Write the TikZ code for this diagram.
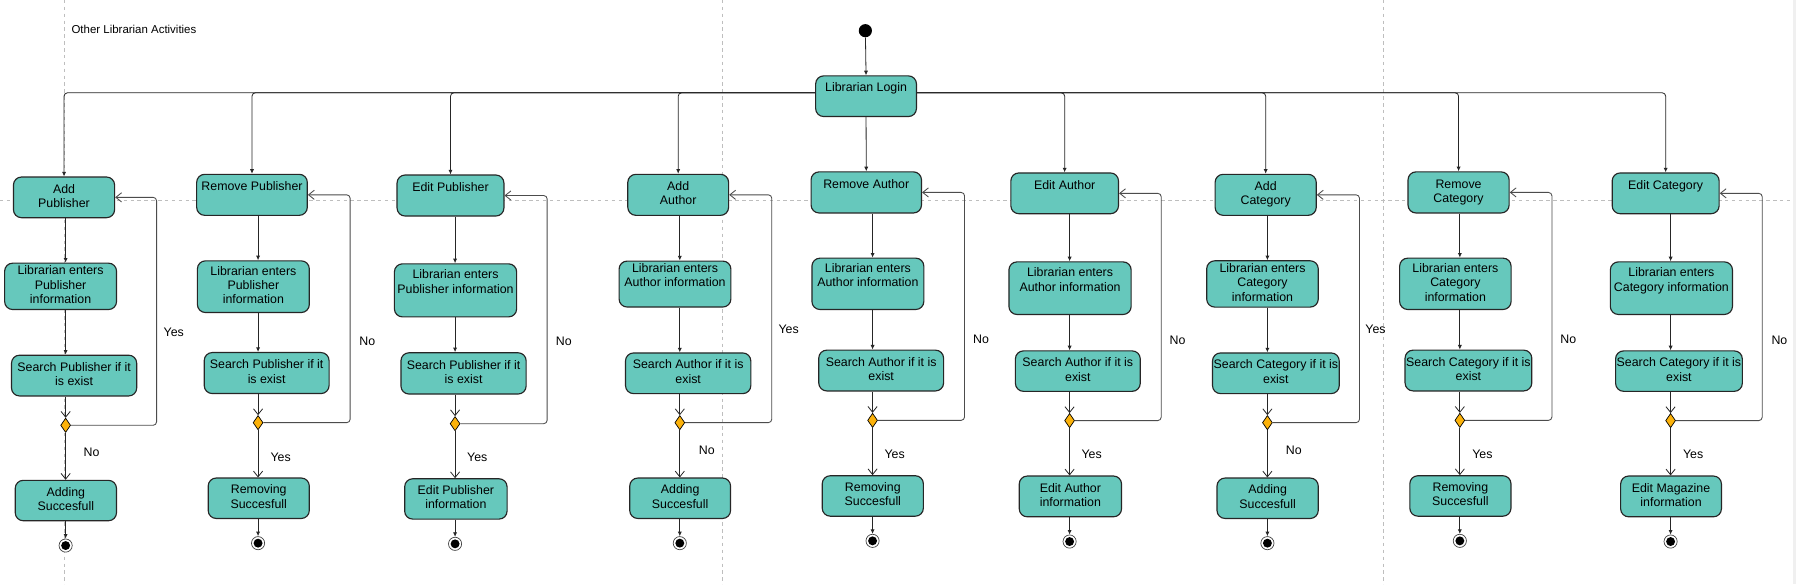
\documentclass[tikz,border=0pt]{standalone}
\usepackage{fontspec}
\setmainfont{Liberation Sans}
\usetikzlibrary{arrows.meta,shapes.geometric}
\definecolor{boxc}{RGB}{102,200,188}
\definecolor{amber}{RGB}{252,178,10}
\definecolor{dashc}{RGB}{190,190,190}
\newcommand{\bxn}[6]{\node[bx,minimum width=#4pt,minimum height=#5pt] (#1) at (#2,#3) {#6};}
\newcommand{\st}{\strut}
\begin{document}
\begin{tikzpicture}[x=1pt,y=-1pt,
  bx/.style={draw=black!85, line width=1pt, fill=boxc, rounded corners=7pt, inner sep=1pt, align=center, font=\fontsize{10.8}{12.5}\selectfont},
  lab/.style={font=\fontsize{10.8}{12.5}\selectfont, inner sep=0pt},
  fl/.style={draw=black!85, line width=0.7pt, -{Latex[length=4pt,width=3.6pt]}},
  op/.style={draw=black!85, line width=0.7pt, -{Straight Barb[length=5pt,width=8pt]}},
  lp/.style={draw=black!70, line width=0.75pt, -{Straight Barb[length=5pt,width=8pt]}},
  dm/.style={diamond, draw=black, fill=amber, minimum width=8.7pt, minimum height=12.5pt, inner sep=0pt, line width=0.6pt},
  fin/.style={circle, draw=black!75, line width=0.6pt, fill=white, minimum size=11.5pt, inner sep=0pt, path picture={\fill[black] (path picture bounding box.center) circle (3.9pt);}},
  ini/.style={circle, fill=black, minimum size=11.5pt, inner sep=0pt},
  dsh/.style={draw=dashc, line width=0.6pt, dash pattern=on 3pt off 3pt}]
\useasboundingbox (0,0) rectangle (1568,510);
\fill[white] (0,0) rectangle (1568,510);
\fill[black!6] (1565,0) rectangle (1568,510);
% swimlane guides
\draw[dsh] (56,0) -- (56,510);
\draw[dsh] (631,0) -- (631,510);
\draw[dsh] (1208,0) -- (1208,510);
\draw[dsh] (0,175.2) -- (1565,175.2);

\node[anchor=west, font=\fontsize{10}{12}\selectfont, inner sep=0pt] (title) at (62.3,25.4) {Other Librarian Activities};

\node[ini] (S) at (755.5,26.8) {};
\bxn{L}{756.1}{84}{88}{35.5}{\st Librarian Login\\\st}
\coordinate (bl) at (712.1,81);
\coordinate (br) at (800.1,81);

% column 1
\bxn{A1}{55.9}{172.3}{88.3}{35.5}{\st Add\\\st Publisher}
\bxn{B1}{52.9}{250}{97.7}{40.5}{\st Librarian enters\\\st Publisher\\\st information}
\bxn{C1}{64.7}{327.9}{109.3}{35.6}{\st Search Publisher if it\\\st is exist}
\node[dm] (D1) at (57.3,371.3) {};
\bxn{E1}{57.5}{437}{88.4}{35.3}{\st Adding\\\st Succesfull}
\node[fin] (F1) at (57.3,476.3) {};
\coordinate (k1) at (136.7,0);
% column 2
\bxn{A2}{220}{170.1}{96.6}{35.8}{\st Remove Publisher\\\st}
\bxn{B2}{221.2}{250.3}{97.7}{45.1}{\st Librarian enters\\\st Publisher\\\st information}
\bxn{C2}{232.8}{325.7}{109}{35.8}{\st Search Publisher if it\\\st is exist}
\node[dm] (D2) at (225.3,369) {};
\bxn{E2}{225.9}{435}{88.3}{35.3}{\st Removing\\\st Succesfull}
\node[fin] (F2) at (225.3,474.2) {};
\coordinate (k2) at (305.7,0);
% column 3
\bxn{A3}{393.3}{170.7}{93.3}{35.8}{\st Edit Publisher\\\st}
\bxn{B3}{397.7}{253.5}{106.7}{46.3}{\st Librarian enters\\\st Publisher information\\\st}
\bxn{C3}{404.7}{326}{109.3}{36}{\st Search Publisher if it\\\st is exist}
\node[dm] (D3) at (397.3,369.9) {};
\bxn{E3}{398}{435.6}{89.4}{35.2}{\st Edit Publisher\\\st information}
\node[fin] (F3) at (397.3,474.8) {};
\coordinate (k3) at (477.7,0);
% column 4
\bxn{A4}{592.1}{170.1}{88}{35.8}{\st Add\\\st Author}
\bxn{B4}{589.3}{248}{97.6}{40.1}{\st Librarian enters\\\st Author information\\\st}
\bxn{C4}{600.8}{325.9}{109.4}{35.5}{\st Search Author if it is\\\st exist}
\node[dm] (D4) at (593.5,369) {};
\bxn{E4}{593.8}{435}{88}{35.3}{\st Adding\\\st Succesfull}
\node[fin] (F4) at (593.5,474.2) {};
\coordinate (k4) at (673.8,0);
% column 5
\bxn{A5}{756.3}{168}{96.4}{35.9}{\st Remove Author\\\st}
\bxn{B5}{757.7}{247.8}{97.7}{44.8}{\st Librarian enters\\\st Author information\\\st}
\bxn{C5}{769.3}{323.5}{109}{35.6}{\st Search Author if it is\\\st exist}
\node[dm] (D5) at (761.8,367) {};
\bxn{E5}{762}{433}{88.3}{35.3}{\st Removing\\\st Succesfull}
\node[fin] (F5) at (761.8,472.2) {};
\coordinate (k5) at (842.1,0);
% column 6
\bxn{A6}{929.5}{168.8}{94}{35.6}{\st Edit Author\\\st}
\bxn{B6}{934.2}{251.6}{106.7}{45.9}{\st Librarian enters\\\st Author information\\\st}
\bxn{C6}{941}{324}{109}{35.3}{\st Search Author if it is\\\st exist}
\node[dm] (D6) at (933.8,367.2) {};
\bxn{E6}{934.5}{433.4}{89.3}{35.6}{\st Edit Author\\\st information}
\node[fin] (F6) at (933.8,472.8) {};
\coordinate (k6) at (1013.8,0);
% column 7
\bxn{A7}{1105}{170.1}{88.3}{35.8}{\st Add\\\st Category}
\bxn{B7}{1102.2}{247.9}{97.4}{40.4}{\st Librarian enters\\\st Category\\\st information}
\bxn{C7}{1113.9}{325.9}{109.3}{35.5}{\st Search Category if it is\\\st exist}
\node[dm] (D7) at (1106.5,369) {};
\bxn{E7}{1106.7}{435}{88.4}{35.3}{\st Adding\\\st Succesfull}
\node[fin] (F7) at (1106.5,474.2) {};
\coordinate (k7) at (1186.9,0);
% column 8
\bxn{A8}{1273.4}{168}{88.3}{35.9}{\st Remove\\\st Category}
\bxn{B8}{1270.6}{247.8}{97.3}{44.8}{\st Librarian enters\\\st Category\\\st information}
\bxn{C8}{1282}{323.5}{109}{35.6}{\st Search Category if it is\\\st exist}
\node[dm] (D8) at (1274.5,367) {};
\bxn{E8}{1275}{433}{88.3}{35.3}{\st Removing\\\st Succesfull}
\node[fin] (F8) at (1274.5,472.2) {};
\coordinate (k8) at (1354.9,0);
% column 9
\bxn{A9}{1454.2}{168.8}{93.4}{35.6}{\st Edit Category\\\st}
\bxn{B9}{1459.2}{251.6}{106.6}{45.9}{\st Librarian enters\\\st Category information\\\st}
\bxn{C9}{1465.8}{324}{108.7}{35.3}{\st Search Category if it is\\\st exist}
\node[dm] (D9) at (1458.5,367.2) {};
\bxn{E9}{1458.9}{433.4}{88}{35.6}{\st Edit Magazine\\\st information}
\node[fin] (F9) at (1458.5,472.8) {};
\coordinate (k9) at (1538.5,0);

% start and bus
\draw[fl] (S) -- (L.north);
\foreach \c in {A1,A2,A3,A4} {\draw[fl, rounded corners=3pt] (bl) -| (\c.north);}
\foreach \c in {A6,A7,A8,A9} {\draw[fl, rounded corners=3pt] (br) -| (\c.north);}
\draw[fl] (L.south) -- (A5.north);

% column flows
\foreach \i in {1,...,9} {
  \draw[fl] (A\i.south -| D\i) -- (B\i.north -| D\i);
  \draw[fl] (B\i.south -| D\i) -- (C\i.north -| D\i);
  \draw[op] (C\i.south -| D\i) -- (D\i.north);
  \draw[op] (D\i.south) -- (E\i.north -| D\i);
  \draw[fl] (E\i.south -| F\i) -- (F\i.north);
  \draw[lp, rounded corners=3pt] (D\i.east) -- (D\i.east -| k\i) -- (A\i.east -| k\i) -- (A\i.east);
}

% guard labels
\node[lab] (y1) at (151.7,289.7) {Yes};
\node[lab] (n1) at (80,394.6) {No};
\node[lab] (n2) at (320.7,297.6) {No};
\node[lab] (y2) at (245,399) {Yes};
\node[lab] (n3) at (492.3,298.4) {No};
\node[lab] (y3) at (416.7,399.3) {Yes};
\node[lab] (y4) at (688.5,287.4) {Yes};
\node[lab] (n4) at (617.1,392.9) {No};
\node[lab] (n5) at (856.5,296.1) {No};
\node[lab] (y5) at (781.1,396.4) {Yes};
\node[lab] (n6) at (1028.1,297) {No};
\node[lab] (y6) at (953.1,396.4) {Yes};
\node[lab] (y7) at (1200.9,287.4) {Yes};
\node[lab] (n7) at (1129.5,392.9) {No};
\node[lab] (n8) at (1369.2,296.1) {No};
\node[lab] (y8) at (1294.2,396.4) {Yes};
\node[lab] (n9) at (1553.5,297) {No};
\node[lab] (y9) at (1478.2,396.4) {Yes};
\end{tikzpicture}
\end{document}
